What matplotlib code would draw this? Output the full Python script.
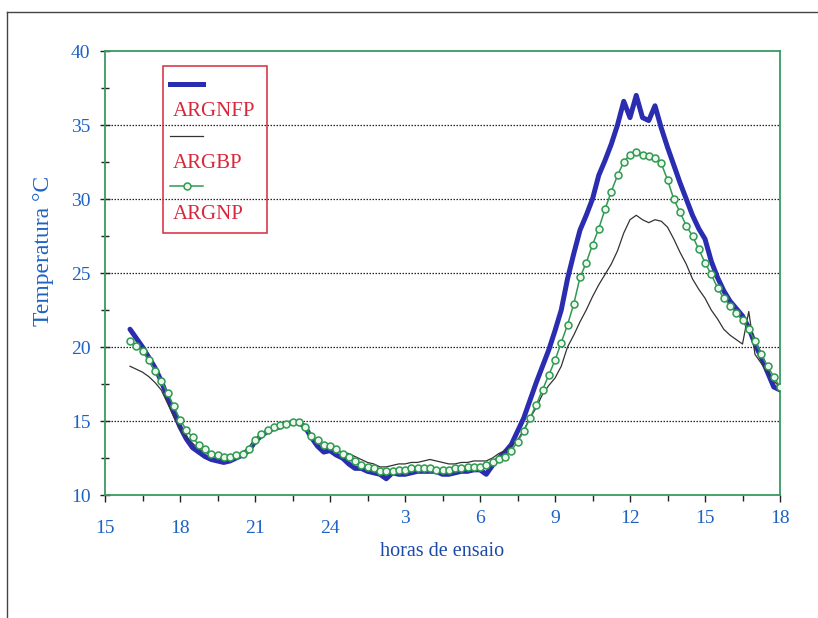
import numpy as np
import matplotlib.pyplot as plt
from matplotlib.patches import Rectangle
from matplotlib.lines import Line2D

# readings every 15 minutes, first one at 16:00 of the first day
start_hour = 16.0
step_hour = 0.25

argnfp = [21.2, 20.6, 20.0, 19.3,  18.6, 17.7, 16.6, 15.6,  14.6, 13.8, 13.2, 12.9,
          12.6, 12.4, 12.3, 12.2,  12.3, 12.5, 12.7, 13.0,  13.6, 14.0, 14.3, 14.5,
          14.6, 14.8, 14.9, 14.9,  14.6, 13.9, 13.3, 12.9,  13.0, 12.7, 12.5, 12.1,
          11.8, 11.8, 11.6, 11.5,  11.4, 11.1, 11.5, 11.4,  11.4, 11.5, 11.6, 11.6,
          11.6, 11.6, 11.4, 11.4,  11.5, 11.6, 11.6, 11.7,  11.7, 11.4, 12.0, 12.5,
          12.9, 13.4, 14.3, 15.2,  16.4, 17.6, 18.7, 19.8,  21.1, 22.5, 24.6, 26.3,
          27.9, 28.9, 30.0, 31.6,  32.6, 33.7, 35.0, 36.6,  35.5, 37.0, 35.5, 35.3,
          36.3, 34.8, 33.5, 32.3,  31.1, 30.0, 28.9, 28.0,  27.3, 25.8, 24.7, 23.8,
          23.1, 22.6, 22.1, 21.3,  20.2, 19.3, 18.3, 17.3,  17.1]

argbp = [18.7, 18.5, 18.3, 18.0,  17.6, 17.1, 16.2, 15.3,  14.5, 13.9, 13.5, 13.1,
         12.9, 12.7, 12.5, 12.4,  12.5, 12.7, 12.9, 13.2,  13.7, 14.1, 14.4, 14.6,
         14.7, 14.8, 14.9, 14.9,  14.6, 14.0, 13.6, 13.3,  13.2, 13.0, 12.9, 12.8,
         12.6, 12.4, 12.2, 12.1,  11.9, 11.9, 12.0, 12.1,  12.1, 12.2, 12.2, 12.3,
         12.4, 12.3, 12.2, 12.1,  12.1, 12.2, 12.2, 12.3,  12.3, 12.3, 12.5, 12.8,
         13.0, 13.3, 13.7, 14.4,  15.2, 15.9, 16.8, 17.4,  17.9, 18.7, 20.0, 20.8,
         21.7, 22.5, 23.4, 24.2,  24.9, 25.6, 26.5, 27.7,  28.6, 28.9, 28.6, 28.4,
         28.6, 28.5, 28.1, 27.3,  26.4, 25.6, 24.6, 23.9,  23.3, 22.5, 21.9, 21.2,
         20.8, 20.5, 20.2, 22.4,  19.5, 18.9, 18.3, 17.7,  17.3]

argnp = [20.4, 20.1, 19.7, 19.1,  18.4, 17.7, 16.9, 16.0,  15.1, 14.4, 13.9, 13.4,
         13.1, 12.8, 12.7, 12.6,  12.6, 12.7, 12.8, 13.1,  13.7, 14.1, 14.4, 14.6,
         14.7, 14.8, 14.9, 14.9,  14.6, 14.0, 13.7, 13.4,  13.3, 13.1, 12.8, 12.6,
         12.3, 12.0, 11.9, 11.8,  11.6, 11.6, 11.6, 11.7,  11.7, 11.8, 11.8, 11.8,
         11.8, 11.7, 11.7, 11.7,  11.8, 11.8, 11.9, 11.9,  11.9, 12.0, 12.2, 12.4,
         12.6, 13.0, 13.6, 14.3,  15.2, 16.1, 17.1, 18.1,  19.1, 20.3, 21.5, 22.9,
         24.7, 25.7, 26.9, 28.0,  29.3, 30.5, 31.6, 32.5,  33.0, 33.2, 33.0, 32.9,
         32.8, 32.4, 31.3, 30.0,  29.1, 28.2, 27.5, 26.6,  25.7, 24.9, 24.0, 23.3,
         22.8, 22.3, 21.8, 21.2,  20.4, 19.5, 18.7, 18.0,  17.3]

tick_hours = [15, 18, 21, 24, 27, 30, 33, 36, 39, 42]
tick_labels = ['15', '18', '21', '24', '3', '6', '9', '12', '15', '18']
series_names = ['ARGNFP', 'ARGBP', 'ARGNP']

hours = start_hour + step_hour * np.arange(len(argnfp))

plt.rcParams['font.family'] = ['Liberation Serif', 'DejaVu Serif']

blue = '#2b2db0'
green = '#2f9a52'
dark = '#333333'
tick_blue = '#1d62c4'
red = '#d8283c'

fig = plt.figure(figsize=(8.18, 6.18), dpi=100)
ax = fig.add_axes([105 / 818, 1 - 495 / 618, 675 / 818, 444 / 618])

# page frame of the scanned figure
fig.add_artist(Line2D([7 / 818, 1.0], [1 - 12 / 618] * 2, color='#444444', lw=1.0))
fig.add_artist(Line2D([7 / 818] * 2, [0.0, 1 - 12 / 618], color='#444444', lw=1.0))

ax.plot(hours, argnfp, color=blue, lw=3.6, solid_capstyle='round', zorder=3)
ax.plot(hours, argbp, color=dark, lw=0.9, zorder=4)
ax.plot(hours, argnp, color=green, lw=1.1, marker='o', ms=5.0, mfc='#eef6ee',
        mec=green, mew=1.1, zorder=5)

ax.set_xlim(15, 42)
ax.set_ylim(10, 40)
ax.set_xticks(tick_hours)
ax.set_xticklabels(tick_labels)
ax.set_xticks(np.arange(16.5, 42, 3), minor=True)
ax.set_yticks(np.arange(10, 41, 5))
ax.set_yticks(np.arange(12.5, 40, 5), minor=True)

for y in np.arange(15, 40, 5):
    ax.axhline(y, color='#222222', lw=0.9, ls=(0, (1.2, 1.2)), zorder=1)

for s in ax.spines.values():
    s.set_color('#3a9a60')
    s.set_linewidth(1.3)

ax.tick_params(axis='x', which='both', direction='out', length=5, width=1,
               color='#222222', labelsize=14, labelcolor=tick_blue, pad=6)
ax.tick_params(axis='x', which='minor', length=4)
ax.tick_params(axis='y', which='both', direction='inout', length=7, width=1,
               color='#222222', labelsize=14, labelcolor=tick_blue, pad=7)
ax.tick_params(axis='y', which='minor', length=6)
for t in ax.xaxis.get_major_ticks()[:4]:
    t.set_pad(13)

ax.set_ylabel('Temperatura °C', fontsize=17, color=tick_blue)
ax.yaxis.set_label_coords(-0.075, 0.55)
ax.set_xlabel('horas de ensaio', fontsize=14.5, color='#1c4aa8')
ax.xaxis.set_label_coords(0.5, -0.105)

# legend box: handle on one row, name on the row below
ax.add_patch(Rectangle((0.086, 0.591), 0.154, 0.375, transform=ax.transAxes,
                       fill=False, edgecolor=red, lw=1.1, zorder=6))
handle_y = [0.9255, 0.8095, 0.696]
label_y = [0.864, 0.747, 0.632]
styles = [dict(color=blue, lw=3.6),
          dict(color=dark, lw=0.9),
          dict(color=green, lw=1.1)]
for name, hy, ly, st in zip(series_names, handle_y, label_y, styles):
    ax.add_line(Line2D([0.097, 0.145], [hy, hy], transform=ax.transAxes, zorder=7, **st))
    ax.text(0.1, ly, name, transform=ax.transAxes, color=red, fontsize=15,
            va='center', ha='left', zorder=7)
ax.plot([0.121], [handle_y[2]], transform=ax.transAxes, marker='o', ms=5.0,
        mfc='#eef6ee', mec=green, mew=1.1, zorder=8)

fig.savefig('out.png', dpi=100)
